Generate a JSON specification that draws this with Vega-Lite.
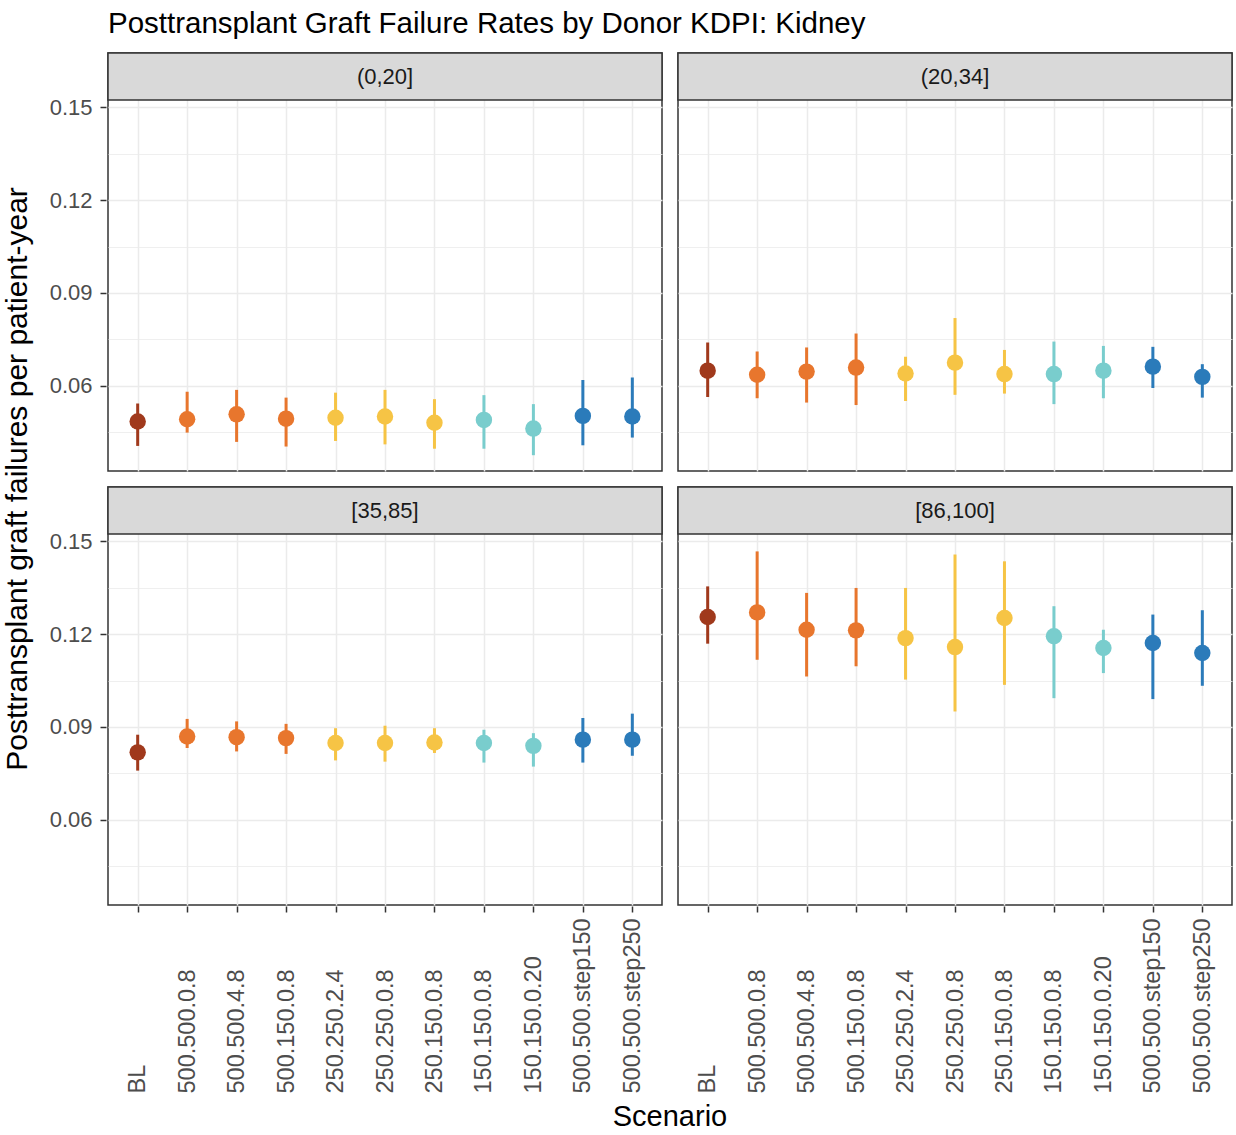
{
  "$schema": "https://vega.github.io/schema/vega-lite/v6.json",
  "padding": {"left": 2, "top": 9, "right": 2, "bottom": 0},
  "background": "white",
  "title": {"text": "Posttransplant Graft Failure Rates by Donor KDPI: Kidney", "anchor": "start", "frame": "group", "font": "Liberation Sans", "fontSize": 29.5, "fontWeight": "normal", "color": "#000000", "offset": 12},
  "data": {"values": [
    {"kdpi": "(0,20]", "scenario": "BL", "rate": 0.0485, "lo": 0.0406, "hi": 0.0543},
    {"kdpi": "(0,20]", "scenario": "500.500.0.8", "rate": 0.0492, "lo": 0.0449, "hi": 0.0581},
    {"kdpi": "(0,20]", "scenario": "500.500.4.8", "rate": 0.0508, "lo": 0.0419, "hi": 0.0587},
    {"kdpi": "(0,20]", "scenario": "500.150.0.8", "rate": 0.0494, "lo": 0.0404, "hi": 0.0562},
    {"kdpi": "(0,20]", "scenario": "250.250.2.4", "rate": 0.0497, "lo": 0.0422, "hi": 0.0578},
    {"kdpi": "(0,20]", "scenario": "250.250.0.8", "rate": 0.0501, "lo": 0.0411, "hi": 0.0587},
    {"kdpi": "(0,20]", "scenario": "250.150.0.8", "rate": 0.0481, "lo": 0.0397, "hi": 0.0557},
    {"kdpi": "(0,20]", "scenario": "150.150.0.8", "rate": 0.0490, "lo": 0.0397, "hi": 0.0570},
    {"kdpi": "(0,20]", "scenario": "150.150.0.20", "rate": 0.0462, "lo": 0.0376, "hi": 0.0541},
    {"kdpi": "(0,20]", "scenario": "500.500.step150", "rate": 0.0503, "lo": 0.0408, "hi": 0.0619},
    {"kdpi": "(0,20]", "scenario": "500.500.step250", "rate": 0.0501, "lo": 0.0433, "hi": 0.0627},
    {"kdpi": "(20,34]", "scenario": "BL", "rate": 0.0649, "lo": 0.0564, "hi": 0.0740},
    {"kdpi": "(20,34]", "scenario": "500.500.0.8", "rate": 0.0636, "lo": 0.0560, "hi": 0.0711},
    {"kdpi": "(20,34]", "scenario": "500.500.4.8", "rate": 0.0646, "lo": 0.0546, "hi": 0.0724},
    {"kdpi": "(20,34]", "scenario": "500.150.0.8", "rate": 0.0659, "lo": 0.0538, "hi": 0.0769},
    {"kdpi": "(20,34]", "scenario": "250.250.2.4", "rate": 0.0640, "lo": 0.0551, "hi": 0.0694},
    {"kdpi": "(20,34]", "scenario": "250.250.0.8", "rate": 0.0675, "lo": 0.0571, "hi": 0.0819},
    {"kdpi": "(20,34]", "scenario": "250.150.0.8", "rate": 0.0638, "lo": 0.0575, "hi": 0.0716},
    {"kdpi": "(20,34]", "scenario": "150.150.0.8", "rate": 0.0638, "lo": 0.0541, "hi": 0.0743},
    {"kdpi": "(20,34]", "scenario": "150.150.0.20", "rate": 0.0649, "lo": 0.0560, "hi": 0.0729},
    {"kdpi": "(20,34]", "scenario": "500.500.step150", "rate": 0.0662, "lo": 0.0593, "hi": 0.0726},
    {"kdpi": "(20,34]", "scenario": "500.500.step250", "rate": 0.0629, "lo": 0.0562, "hi": 0.0670},
    {"kdpi": "[35,85]", "scenario": "BL", "rate": 0.0818, "lo": 0.0759, "hi": 0.0875},
    {"kdpi": "[35,85]", "scenario": "500.500.0.8", "rate": 0.0869, "lo": 0.0832, "hi": 0.0926},
    {"kdpi": "[35,85]", "scenario": "500.500.4.8", "rate": 0.0867, "lo": 0.0821, "hi": 0.0918},
    {"kdpi": "[35,85]", "scenario": "500.150.0.8", "rate": 0.0864, "lo": 0.0813, "hi": 0.0910},
    {"kdpi": "[35,85]", "scenario": "250.250.2.4", "rate": 0.0848, "lo": 0.0792, "hi": 0.0896},
    {"kdpi": "[35,85]", "scenario": "250.250.0.8", "rate": 0.0848, "lo": 0.0788, "hi": 0.0904},
    {"kdpi": "[35,85]", "scenario": "250.150.0.8", "rate": 0.0850, "lo": 0.0816, "hi": 0.0896},
    {"kdpi": "[35,85]", "scenario": "150.150.0.8", "rate": 0.0848, "lo": 0.0785, "hi": 0.0891},
    {"kdpi": "[35,85]", "scenario": "150.150.0.20", "rate": 0.0839, "lo": 0.0772, "hi": 0.0880},
    {"kdpi": "[35,85]", "scenario": "500.500.step150", "rate": 0.0859, "lo": 0.0785, "hi": 0.0929},
    {"kdpi": "[35,85]", "scenario": "500.500.step250", "rate": 0.0859, "lo": 0.0807, "hi": 0.0943},
    {"kdpi": "[86,100]", "scenario": "BL", "rate": 0.1255, "lo": 0.1169, "hi": 0.1354},
    {"kdpi": "[86,100]", "scenario": "500.500.0.8", "rate": 0.1270, "lo": 0.1117, "hi": 0.1467},
    {"kdpi": "[86,100]", "scenario": "500.500.4.8", "rate": 0.1214, "lo": 0.1063, "hi": 0.1333},
    {"kdpi": "[86,100]", "scenario": "500.150.0.8", "rate": 0.1212, "lo": 0.1096, "hi": 0.1349},
    {"kdpi": "[86,100]", "scenario": "250.250.2.4", "rate": 0.1187, "lo": 0.1053, "hi": 0.1349},
    {"kdpi": "[86,100]", "scenario": "250.250.0.8", "rate": 0.1158, "lo": 0.0950, "hi": 0.1457},
    {"kdpi": "[86,100]", "scenario": "250.150.0.8", "rate": 0.1252, "lo": 0.1036, "hi": 0.1435},
    {"kdpi": "[86,100]", "scenario": "150.150.0.8", "rate": 0.1193, "lo": 0.0993, "hi": 0.1290},
    {"kdpi": "[86,100]", "scenario": "150.150.0.20", "rate": 0.1155, "lo": 0.1074, "hi": 0.1214},
    {"kdpi": "[86,100]", "scenario": "500.500.step150", "rate": 0.1171, "lo": 0.0990, "hi": 0.1263},
    {"kdpi": "[86,100]", "scenario": "500.500.step250", "rate": 0.1139, "lo": 0.1033, "hi": 0.1277}
  ]},
  "transform": [
    {"calculate": "(datum.kdpi == '(0,20]' || datum.kdpi == '(20,34]') ? 'a' : 'b'", "as": "prow"},
    {"calculate": "(datum.kdpi == '(0,20]' || datum.kdpi == '[35,85]') ? 'l' : 'r'", "as": "pcol"}
  ],
  "facet": {
    "row": {"field": "prow", "type": "nominal", "header": {"title": "Posttransplant graft failures per patient-year", "labels": false, "titleOrient": "left", "titleFont": "Liberation Sans", "titleFontSize": 30, "titleFontWeight": "normal", "titleColor": "#000000", "titlePadding": 6}},
    "column": {"field": "pcol", "type": "nominal", "header": {"title": "Scenario", "labels": false, "titleOrient": "bottom", "titleFont": "Liberation Sans", "titleFontSize": 29, "titleFontWeight": "normal", "titleColor": "#000000", "titlePadding": 0}}
  },
  "spacing": {"row": 13, "column": 12},
  "spec": {
    "width": 554,
    "height": 418,
    "layer": [
      {
        "mark": {"type": "rule", "strokeWidth": 3},
        "encoding": {
          "x": {"field": "scenario", "type": "nominal", "sort": ["BL", "500.500.0.8", "500.500.4.8", "500.150.0.8", "250.250.2.4", "250.250.0.8", "250.150.0.8", "150.150.0.8", "150.150.0.20", "500.500.step150", "500.500.step250"], "scale": {"type": "point", "padding": 0.6}, "title": null,
            "axis": {"labelAngle": -90, "labelAlign": "left", "labelBaseline": "middle", "domain": false, "grid": true, "gridColor": "#ebebeb", "gridWidth": 1.5, "tickColor": "#333333", "tickSize": 6, "tickWidth": 1.5, "labelFont": "Liberation Sans", "labelFontSize": 23.5, "labelColor": "#4d4d4d", "labelPadding": 181, "labelOverlap": false}},
          "y": {"field": "lo", "type": "quantitative", "title": null,
            "scale": {"domain": [0.0325, 0.1675], "nice": false, "zero": false},
            "axis": {"values": [0.045, 0.06, 0.075, 0.09, 0.105, 0.12, 0.135, 0.15], "domain": false, "grid": true, "gridColor": "#ebebeb",
              "gridWidth": {"condition": {"test": "round(datum.value*1000) % 30 == 0", "value": 1.6}, "value": 0.8},
              "tickOpacity": {"condition": {"test": "round(datum.value*1000) % 30 == 0", "value": 1}, "value": 0},
              "labelExpr": "round(datum.value*1000) % 30 == 0 ? format(datum.value, '.2f') : ''",
              "tickColor": "#333333", "tickSize": 6, "tickWidth": 1.5, "labelFont": "Liberation Sans", "labelFontSize": 22, "labelColor": "#4d4d4d", "labelPadding": 8}},
          "y2": {"field": "hi"},
          "color": {"field": "scenario", "type": "nominal", "legend": null,
            "scale": {"domain": ["BL", "500.500.0.8", "500.500.4.8", "500.150.0.8", "250.250.2.4", "250.250.0.8", "250.150.0.8", "150.150.0.8", "150.150.0.20", "500.500.step150", "500.500.step250"],
              "range": ["#a0391c", "#e8762d", "#e8762d", "#e8762d", "#f6c445", "#f6c445", "#f6c445", "#79cdcd", "#79cdcd", "#2b7bba", "#2b7bba"]}}
        }
      },
      {
        "mark": {"type": "circle", "size": 270, "opacity": 1},
        "encoding": {
          "x": {"field": "scenario", "type": "nominal", "sort": ["BL", "500.500.0.8", "500.500.4.8", "500.150.0.8", "250.250.2.4", "250.250.0.8", "250.150.0.8", "150.150.0.8", "150.150.0.20", "500.500.step150", "500.500.step250"], "title": null},
          "y": {"field": "rate", "type": "quantitative", "title": null},
          "color": {"field": "scenario", "type": "nominal", "legend": null}
        }
      },
      {
        "transform": [{"filter": "datum.scenario == 'BL'"}],
        "mark": {"type": "rect", "fill": "#d9d9d9", "stroke": "#333333", "strokeWidth": 1.5},
        "encoding": {
          "y": {"datum": 0.1523, "type": "quantitative", "title": null},
          "y2": {"datum": 0.1675}
        }
      },
      {
        "transform": [{"filter": "datum.scenario == 'BL'"}],
        "mark": {"type": "text", "font": "Liberation Sans", "fontSize": 22, "color": "#1a1a1a", "baseline": "middle", "align": "center"},
        "encoding": {
          "y": {"datum": 0.1599, "type": "quantitative", "title": null},
          "text": {"field": "kdpi"}
        }
      }
    ]
  },
  "config": {
    "view": {"stroke": "#333333", "strokeWidth": 1.5},
    "font": "Liberation Sans"
  }
}
